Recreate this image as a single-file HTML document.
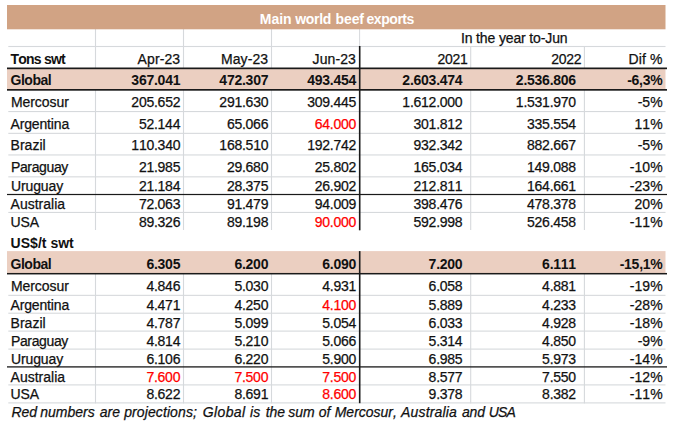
<!DOCTYPE html>
<html><head><meta charset="utf-8"><title>Main world beef exports</title>
<style>
html,body{margin:0;padding:0;background:#fff;}
body{width:690px;height:438px;position:relative;overflow:hidden;font-family:"Liberation Sans",sans-serif;}
svg{position:absolute;left:0;top:0;}
.t{position:absolute;white-space:nowrap;font-kerning:none;font-size:14px;line-height:16px;color:#111;-webkit-text-stroke:0.25px currentColor;font-family:"Liberation Sans",sans-serif;}
.b{font-weight:bold;-webkit-text-stroke:0;}
.lb{letter-spacing:-0.5px;}
.n{letter-spacing:-0.25px;}
.h{letter-spacing:0.1px;}
.p{letter-spacing:0.05px;}
.i{font-style:italic;}
</style></head><body>
<svg width="690" height="438" viewBox="0 0 690 438">
<rect x="94.95" y="29" width="1.1" height="201.00" fill="#d6d9dc"/>
<rect x="94.95" y="273" width="1.1" height="130.40" fill="#d6d9dc"/>
<rect x="182.95" y="29" width="1.1" height="201.00" fill="#d6d9dc"/>
<rect x="182.95" y="273" width="1.1" height="130.40" fill="#d6d9dc"/>
<rect x="270.95" y="29" width="1.1" height="201.00" fill="#d6d9dc"/>
<rect x="270.95" y="273" width="1.1" height="130.40" fill="#d6d9dc"/>
<rect x="470.15" y="46.5" width="1.1" height="183.50" fill="#d6d9dc"/>
<rect x="470.15" y="273" width="1.1" height="130.40" fill="#d6d9dc"/>
<rect x="583.85" y="46.5" width="1.1" height="183.50" fill="#d6d9dc"/>
<rect x="583.85" y="273" width="1.1" height="130.40" fill="#d6d9dc"/>
<rect x="359.10" y="29" width="1" height="17.50" fill="#d6d9dc"/>
<rect x="8.3" y="45.95" width="657.20" height="1.1" fill="#d6d9dc"/>
<rect x="8.3" y="111.00" width="657.20" height="1.1" fill="#d6d9dc"/>
<rect x="8.3" y="132.80" width="657.20" height="1.1" fill="#d6d9dc"/>
<rect x="8.3" y="154.40" width="657.20" height="1.1" fill="#d6d9dc"/>
<rect x="8.3" y="176.30" width="657.20" height="1.1" fill="#d6d9dc"/>
<rect x="8.3" y="211.90" width="657.20" height="1.1" fill="#d6d9dc"/>
<rect x="8.3" y="294.80" width="657.20" height="1.1" fill="#d6d9dc"/>
<rect x="8.3" y="312.65" width="657.20" height="1.1" fill="#d6d9dc"/>
<rect x="8.3" y="330.55" width="657.20" height="1.1" fill="#d6d9dc"/>
<rect x="8.3" y="348.55" width="657.20" height="1.1" fill="#d6d9dc"/>
<rect x="8.3" y="384.35" width="657.20" height="1.1" fill="#d6d9dc"/>
<rect x="8.3" y="402.35" width="657.20" height="1.1" fill="#d6d9dc"/>
<rect x="7" y="5" width="658.5" height="24.3" fill="#d1a384"/>
<rect x="7" y="68.8" width="658.5" height="20.4" fill="#ebcfc1"/>
<rect x="7" y="251.1" width="658.5" height="22.0" fill="#ebcfc1"/>
<rect x="7" y="67.50" width="660.00" height="1.7" fill="#1a1a1a"/>
<rect x="7" y="89.00" width="660.00" height="1.7" fill="#1a1a1a"/>
<rect x="7" y="193.90" width="660.00" height="1.2" fill="#1a1a1a"/>
<rect x="7" y="272.95" width="660.00" height="1.5" fill="#1a1a1a"/>
<rect x="7" y="366.25" width="660.00" height="1.3" fill="#1a1a1a"/>
<rect x="358.90" y="46.0" width="1.6" height="184.30" fill="#1a1a1a"/>
<rect x="358.90" y="251.1" width="1.6" height="152.10" fill="#1a1a1a"/>
</svg>
<span class="t b" style="left:10.60px;top:51.15px;letter-spacing:-0.8px;">Tons swt</span>
<span class="t h" style="right:509.80px;top:51.15px;">Apr-23</span>
<span class="t h" style="right:421.80px;top:51.15px;">May-23</span>
<span class="t h" style="right:334.00px;top:51.15px;">Jun-23</span>
<span class="t n" style="right:222.40px;top:51.15px;">2021</span>
<span class="t n" style="right:108.60px;top:51.15px;">2022</span>
<span class="t h" style="right:27.50px;top:51.15px;">Dif %</span>
<span class="t b" style="left:10.60px;top:72.15px;letter-spacing:-0.5px;">Global</span>
<span class="t b n" style="right:509.80px;top:72.15px;">367.041</span>
<span class="t b n" style="right:421.80px;top:72.15px;">472.307</span>
<span class="t b n" style="right:334.00px;top:72.15px;">493.454</span>
<span class="t b n" style="right:227.60px;top:72.15px;">2.603.474</span>
<span class="t b n" style="right:114.10px;top:72.15px;">2.536.806</span>
<span class="t b n" style="right:27.50px;top:72.15px;">-6,3%</span>
<span class="t " style="left:10.90px;top:94.15px;letter-spacing:-0.05px;">Mercosur</span>
<span class="t  n" style="right:509.80px;top:94.15px;">205.652</span>
<span class="t  n" style="right:421.80px;top:94.15px;">291.630</span>
<span class="t  n" style="right:334.00px;top:94.15px;">309.445</span>
<span class="t  n" style="right:227.60px;top:94.15px;">1.612.000</span>
<span class="t  n" style="right:114.10px;top:94.15px;">1.531.970</span>
<span class="t  p" style="right:27.30px;top:94.15px;">-5%</span>
<span class="t " style="left:10.60px;top:116.15px;letter-spacing:-0.17px;">Argentina</span>
<span class="t  n" style="right:509.80px;top:116.15px;">52.144</span>
<span class="t  n" style="right:421.80px;top:116.15px;">65.066</span>
<span class="t  n" style="right:334.00px;top:116.15px;color:#ff0000;">64.000</span>
<span class="t  n" style="right:227.60px;top:116.15px;">301.812</span>
<span class="t  n" style="right:114.10px;top:116.15px;">335.554</span>
<span class="t  p" style="right:27.30px;top:116.15px;">11%</span>
<span class="t " style="left:10.60px;top:137.15px;letter-spacing:0px;">Brazil</span>
<span class="t  n" style="right:509.80px;top:137.15px;">110.340</span>
<span class="t  n" style="right:421.80px;top:137.15px;">168.510</span>
<span class="t  n" style="right:334.00px;top:137.15px;">192.742</span>
<span class="t  n" style="right:227.60px;top:137.15px;">932.342</span>
<span class="t  n" style="right:114.10px;top:137.15px;">882.667</span>
<span class="t  p" style="right:27.30px;top:137.15px;">-5%</span>
<span class="t " style="left:10.90px;top:159.15px;letter-spacing:-0.35px;">Paraguay</span>
<span class="t  n" style="right:509.80px;top:159.15px;">21.985</span>
<span class="t  n" style="right:421.80px;top:159.15px;">29.680</span>
<span class="t  n" style="right:334.00px;top:159.15px;">25.802</span>
<span class="t  n" style="right:227.60px;top:159.15px;">165.034</span>
<span class="t  n" style="right:114.10px;top:159.15px;">149.088</span>
<span class="t  p" style="right:27.30px;top:159.15px;">-10%</span>
<span class="t " style="left:11.00px;top:178.15px;letter-spacing:-0.12px;">Uruguay</span>
<span class="t  n" style="right:509.80px;top:178.15px;">21.184</span>
<span class="t  n" style="right:421.80px;top:178.15px;">28.375</span>
<span class="t  n" style="right:334.00px;top:178.15px;">26.902</span>
<span class="t  n" style="right:227.60px;top:178.15px;">212.811</span>
<span class="t  n" style="right:114.10px;top:178.15px;">164.661</span>
<span class="t  p" style="right:27.30px;top:178.15px;">-23%</span>
<span class="t " style="left:10.60px;top:196.15px;letter-spacing:0px;">Australia</span>
<span class="t  n" style="right:509.80px;top:196.15px;">72.063</span>
<span class="t  n" style="right:421.80px;top:196.15px;">91.479</span>
<span class="t  n" style="right:334.00px;top:196.15px;">94.009</span>
<span class="t  n" style="right:227.60px;top:196.15px;">398.476</span>
<span class="t  n" style="right:114.10px;top:196.15px;">478.378</span>
<span class="t  p" style="right:27.30px;top:196.15px;">20%</span>
<span class="t " style="left:10.60px;top:214.15px;letter-spacing:-0.1px;">USA</span>
<span class="t  n" style="right:509.80px;top:214.15px;">89.326</span>
<span class="t  n" style="right:421.80px;top:214.15px;">89.198</span>
<span class="t  n" style="right:334.00px;top:214.15px;color:#ff0000;">90.000</span>
<span class="t  n" style="right:227.60px;top:214.15px;">592.998</span>
<span class="t  n" style="right:114.10px;top:214.15px;">526.458</span>
<span class="t  p" style="right:27.30px;top:214.15px;">-11%</span>
<span class="t b" style="left:10.60px;top:234.65px;letter-spacing:0.02px;">US$/t swt</span>
<span class="t b" style="left:10.60px;top:256.15px;letter-spacing:-0.5px;">Global</span>
<span class="t b n" style="right:509.80px;top:256.15px;">6.305</span>
<span class="t b n" style="right:421.80px;top:256.15px;">6.200</span>
<span class="t b n" style="right:334.00px;top:256.15px;">6.090</span>
<span class="t b n" style="right:227.60px;top:256.15px;">7.200</span>
<span class="t b n" style="right:114.10px;top:256.15px;">6.111</span>
<span class="t b n" style="right:27.50px;top:256.15px;">-15,1%</span>
<span class="t " style="left:10.90px;top:278.15px;letter-spacing:-0.05px;">Mercosur</span>
<span class="t  n" style="right:509.80px;top:278.15px;">4.846</span>
<span class="t  n" style="right:421.80px;top:278.15px;">5.030</span>
<span class="t  n" style="right:334.00px;top:278.15px;">4.931</span>
<span class="t  n" style="right:227.60px;top:278.15px;">6.058</span>
<span class="t  n" style="right:114.10px;top:278.15px;">4.881</span>
<span class="t  p" style="right:27.30px;top:278.15px;">-19%</span>
<span class="t " style="left:10.60px;top:297.15px;letter-spacing:-0.17px;">Argentina</span>
<span class="t  n" style="right:509.80px;top:297.15px;">4.471</span>
<span class="t  n" style="right:421.80px;top:297.15px;">4.250</span>
<span class="t  n" style="right:334.00px;top:297.15px;color:#ff0000;">4.100</span>
<span class="t  n" style="right:227.60px;top:297.15px;">5.889</span>
<span class="t  n" style="right:114.10px;top:297.15px;">4.233</span>
<span class="t  p" style="right:27.30px;top:297.15px;">-28%</span>
<span class="t " style="left:10.60px;top:315.15px;letter-spacing:0px;">Brazil</span>
<span class="t  n" style="right:509.80px;top:315.15px;">4.787</span>
<span class="t  n" style="right:421.80px;top:315.15px;">5.099</span>
<span class="t  n" style="right:334.00px;top:315.15px;">5.054</span>
<span class="t  n" style="right:227.60px;top:315.15px;">6.033</span>
<span class="t  n" style="right:114.10px;top:315.15px;">4.928</span>
<span class="t  p" style="right:27.30px;top:315.15px;">-18%</span>
<span class="t " style="left:10.90px;top:333.15px;letter-spacing:-0.35px;">Paraguay</span>
<span class="t  n" style="right:509.80px;top:333.15px;">4.814</span>
<span class="t  n" style="right:421.80px;top:333.15px;">5.210</span>
<span class="t  n" style="right:334.00px;top:333.15px;">5.066</span>
<span class="t  n" style="right:227.60px;top:333.15px;">5.314</span>
<span class="t  n" style="right:114.10px;top:333.15px;">4.850</span>
<span class="t  p" style="right:27.30px;top:333.15px;">-9%</span>
<span class="t " style="left:11.00px;top:351.15px;letter-spacing:-0.12px;">Uruguay</span>
<span class="t  n" style="right:509.80px;top:351.15px;">6.106</span>
<span class="t  n" style="right:421.80px;top:351.15px;">6.220</span>
<span class="t  n" style="right:334.00px;top:351.15px;">5.900</span>
<span class="t  n" style="right:227.60px;top:351.15px;">6.985</span>
<span class="t  n" style="right:114.10px;top:351.15px;">5.973</span>
<span class="t  p" style="right:27.30px;top:351.15px;">-14%</span>
<span class="t " style="left:10.60px;top:369.15px;letter-spacing:0px;">Australia</span>
<span class="t  n" style="right:509.80px;top:369.15px;color:#ff0000;">7.600</span>
<span class="t  n" style="right:421.80px;top:369.15px;color:#ff0000;">7.500</span>
<span class="t  n" style="right:334.00px;top:369.15px;color:#ff0000;">7.500</span>
<span class="t  n" style="right:227.60px;top:369.15px;">8.577</span>
<span class="t  n" style="right:114.10px;top:369.15px;">7.550</span>
<span class="t  p" style="right:27.30px;top:369.15px;">-12%</span>
<span class="t " style="left:10.60px;top:386.15px;letter-spacing:-0.1px;">USA</span>
<span class="t  n" style="right:509.80px;top:386.15px;">8.622</span>
<span class="t  n" style="right:421.80px;top:386.15px;">8.691</span>
<span class="t  n" style="right:334.00px;top:386.15px;color:#ff0000;">8.600</span>
<span class="t  n" style="right:227.60px;top:386.15px;">9.378</span>
<span class="t  n" style="right:114.10px;top:386.15px;">8.382</span>
<span class="t  p" style="right:27.30px;top:386.15px;">-11%</span>
<span class="t b" style="left:259.8px;top:11.15px;color:#fff;letter-spacing:-0.05px">Main</span>
<span class="t b" style="left:295.3px;top:11.15px;color:#fff;letter-spacing:-0.35px">world</span>
<span class="t b" style="left:335.5px;top:11.15px;color:#fff;letter-spacing:-0.1px">beef</span>
<span class="t b" style="left:366.5px;top:11.15px;color:#fff;letter-spacing:-0.45px">exports</span>
<span class="t" style="left:361.2px;width:306px;text-align:center;letter-spacing:-0.13px;top:30.15px">In the year to-Jun</span>
<span class="t i" style="left:11.40px;top:404.15px;">Red</span>
<span class="t i" style="left:40.30px;top:404.15px;">numbers</span>
<span class="t i" style="left:99.70px;top:404.15px;">are</span>
<span class="t i" style="left:124.20px;top:404.15px;letter-spacing:0.1px;">projections;</span>
<span class="t i" style="left:202.70px;top:404.15px;letter-spacing:0.4px;">Global</span>
<span class="t i" style="left:250.10px;top:404.15px;">is</span>
<span class="t i" style="left:265.70px;top:404.15px;">the</span>
<span class="t i" style="left:288.30px;top:404.15px;">sum</span>
<span class="t i" style="left:318.80px;top:404.15px;">of</span>
<span class="t i" style="left:334.70px;top:404.15px;">Mercosur,</span>
<span class="t i" style="left:401.10px;top:404.15px;letter-spacing:0.15px;">Australia</span>
<span class="t i" style="left:462.00px;top:404.15px;letter-spacing:-0.2px;">and</span>
<span class="t i" style="left:488.70px;top:404.15px;letter-spacing:-0.8px;">USA</span>
</body></html>
